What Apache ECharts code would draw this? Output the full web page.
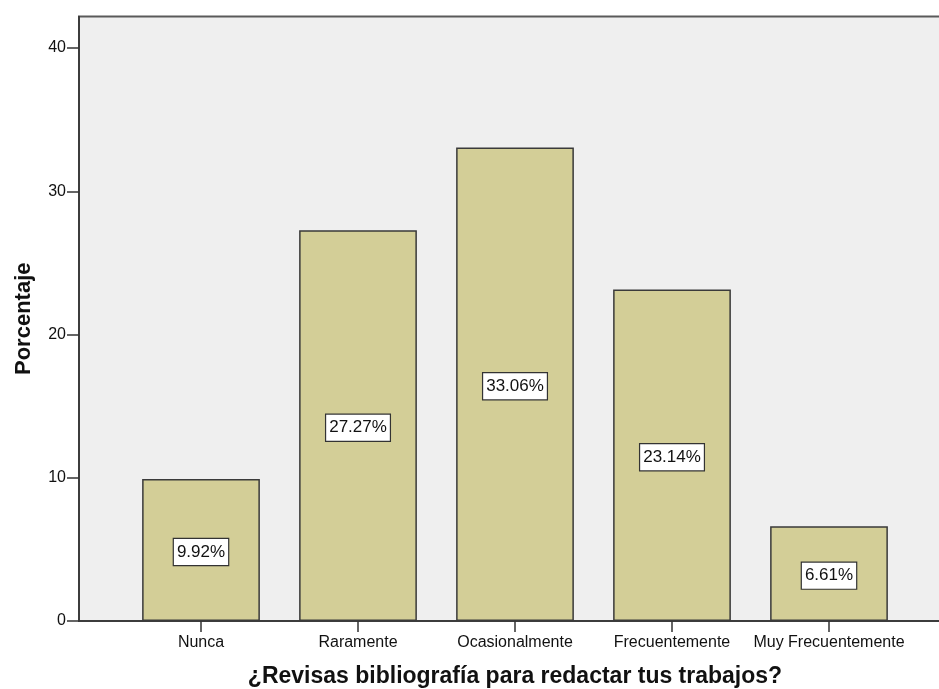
<!DOCTYPE html>
<html>
<head>
<meta charset="utf-8">
<script src="https://cdn.jsdelivr.net/npm/echarts@6/dist/echarts.min.js"></script>
<style>
  html, body { margin: 0; padding: 0; background: #ffffff; }
  #chart { width: 939px; height: 689px; }
</style>
</head>
<body>
<div id="chart"></div>
<script>
// Survey answers: "¿Revisas bibliografía para redactar tus trabajos?"
const categories = ['Nunca', 'Raramente', 'Ocasionalmente', 'Frecuentemente', 'Muy Frecuentemente'];
const percentages = [9.92, 27.27, 33.06, 23.14, 6.61];
const yTicks = [0, 10, 20, 30, 40];
const xTitle = '¿Revisas bibliografía para redactar tus trabajos?';
const yTitle = 'Porcentaje';

const FONT = '"Liberation Sans", Arial, sans-serif';
const Y_MAX = 42.2;
const PLOT_TOP = 16.5;
const PLOT_H = 604.5;

const chart = echarts.init(document.getElementById('chart'), null, { renderer: 'canvas' });

chart.setOption({
  animation: false,
  textStyle: { fontFamily: FONT },
  grid: [
    // panel background with the frame and the value axis (runs past the right edge)
    {
      left: 79, top: PLOT_TOP, width: 900, height: PLOT_H,
      outerBoundsMode: 'none', containLabel: false,
      show: true, backgroundColor: '#efefef',
      borderColor: '#5a5a5a', borderWidth: 2
    },
    // bars
    {
      left: 122.5, top: PLOT_TOP, width: 785, height: PLOT_H,
      outerBoundsMode: 'none', containLabel: false
    }
  ],
  xAxis: [
    {
      gridIndex: 0, type: 'value', min: 0, max: 1,
      axisLine: { show: true, onZero: false, lineStyle: { color: '#333', width: 1.5 } },
      axisTick: { show: false }, axisLabel: { show: false }, splitLine: { show: false }
    },
    {
      gridIndex: 1, type: 'category', data: categories,
      axisLine: { show: false },
      axisTick: { show: true, alignWithLabel: true, length: 11, lineStyle: { color: '#333', width: 1.5 } },
      axisLabel: { color: '#111', fontSize: 16, fontFamily: FONT, margin: 14, interval: 0 },
      name: xTitle, nameLocation: 'middle', nameGap: 44,
      nameTextStyle: { fontSize: 23, fontWeight: 'bold', color: '#111', fontFamily: FONT }
    }
  ],
  yAxis: [
    {
      gridIndex: 0, type: 'value', min: 0, max: Y_MAX, interval: 10,
      axisLine: { show: true, lineStyle: { color: '#333', width: 1.5 } },
      axisTick: { show: true, length: 12, customValues: yTicks, lineStyle: { color: '#333', width: 1.5 } },
      axisLabel: { customValues: yTicks, color: '#111', fontSize: 16, fontFamily: FONT, margin: 13 },
      splitLine: { show: false },
      name: yTitle, nameLocation: 'middle', nameGap: 44,
      nameTextStyle: { fontSize: 22, fontWeight: 'bold', color: '#111', fontFamily: FONT }
    },
    {
      gridIndex: 1, type: 'value', min: 0, max: Y_MAX,
      show: false, splitLine: { show: false }
    }
  ],
  series: [
    {
      type: 'bar', xAxisIndex: 1, yAxisIndex: 1,
      data: percentages,
      barCategoryGap: '25%',
      itemStyle: { color: '#d3ce97', borderColor: '#3a3a3a', borderWidth: 1.5 },
      label: {
        show: true, position: 'inside', offset: [0, 2],
        formatter: p => p.value.toFixed(2) + '%',
        color: '#111', fontSize: 17, lineHeight: 17, fontFamily: FONT,
        backgroundColor: '#ffffff', borderColor: '#333', borderWidth: 1.2,
        padding: [5, 3, 4, 3]
      }
    }
  ]
});
</script>
</body>
</html>
